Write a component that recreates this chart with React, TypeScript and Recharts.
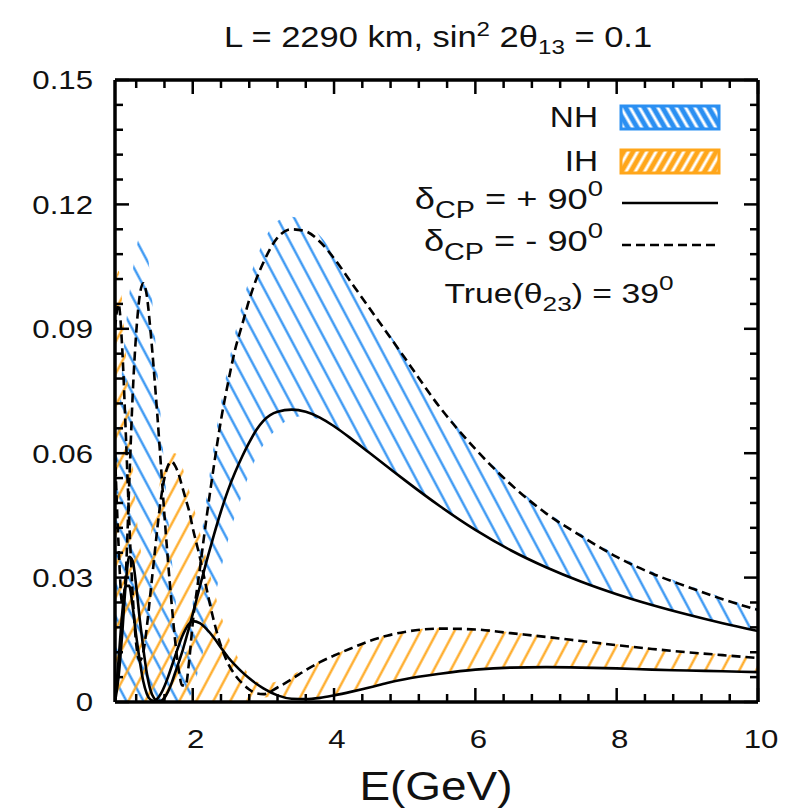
import React from 'react';
import { ComposedChart, Area, Line, XAxis, YAxis } from 'recharts';

// energy grid (GeV)
const energy = [
  0.9, 0.95, 1.0, 1.05, 1.1, 1.15, 1.2, 1.25, 1.3, 1.35, 1.4, 1.45, 1.5, 1.55, 1.6, 1.65, 1.7, 1.75, 1.8, 1.85, 1.9, 1.95,
  2.0, 2.1, 2.2, 2.3, 2.4, 2.5, 2.6, 2.7, 2.8, 2.9, 3.0,
  3.2, 3.4, 3.6, 3.8, 4.0, 4.25, 4.5, 4.75, 5.0,
  5.5, 6.0, 6.5, 7.0, 7.5, 8.0, 8.5, 9.0, 9.5, 10.0,
];

// NH, deltaCP = +90
const nhPlus = [
  0.0, 0.006, 0.016, 0.028, 0.035, 0.034, 0.028, 0.02, 0.013, 0.007, 0.003, 0.001, 0.0003, 0.0003, 0.001, 0.0025, 0.0045, 0.007, 0.0095, 0.012, 0.015, 0.018,
  0.0212, 0.0278, 0.0342, 0.0403, 0.046, 0.0511, 0.0554, 0.0592, 0.0626, 0.0656, 0.0678,
  0.07, 0.0705, 0.07, 0.0686, 0.0665, 0.0634, 0.0601, 0.0568, 0.0535,
  0.0472, 0.0415, 0.0366, 0.0325, 0.029, 0.026, 0.0234, 0.0211, 0.019, 0.0171,
];

// NH, deltaCP = -90
const nhMinus = [
  0.06, 0.038, 0.024, 0.03, 0.052, 0.074, 0.089, 0.098, 0.101, 0.098, 0.09, 0.08, 0.069, 0.057, 0.045, 0.034, 0.024, 0.015, 0.008, 0.004, 0.004, 0.01,
  0.019, 0.032, 0.045, 0.057, 0.068, 0.077, 0.085, 0.091, 0.097, 0.102, 0.106,
  0.112, 0.114, 0.1135, 0.111, 0.107, 0.101, 0.095, 0.089, 0.083,
  0.071, 0.061, 0.0525, 0.0455, 0.04, 0.035, 0.031, 0.0278, 0.0248, 0.0222,
];

// IH, deltaCP = +90
const ihPlus = [
  0.0, 0.01, 0.021, 0.028, 0.028, 0.023, 0.016, 0.01, 0.005, 0.002, 0.0006, 0.0003, 0.0008, 0.002, 0.0038, 0.006, 0.0085, 0.011, 0.0135, 0.0158, 0.0176, 0.0189,
  0.0195, 0.019, 0.0175, 0.0155, 0.0131, 0.0108, 0.0089, 0.0072, 0.0057, 0.0044, 0.0033,
  0.0016, 0.0008, 0.0007, 0.001, 0.0016, 0.0025, 0.0035, 0.0046, 0.0055,
  0.0068, 0.0078, 0.0083, 0.0084, 0.0083, 0.0081, 0.0078, 0.0076, 0.0074, 0.0072,
];

// IH, deltaCP = -90
const ihMinus = [
  0.09, 0.096, 0.086, 0.066, 0.044, 0.026, 0.014, 0.01, 0.012, 0.018, 0.026, 0.034, 0.042, 0.049, 0.054, 0.057, 0.058, 0.057, 0.055, 0.052, 0.049, 0.046,
  0.042, 0.035, 0.027, 0.0195, 0.0135, 0.0093, 0.0065, 0.0045, 0.003, 0.0021, 0.0019,
  0.0035, 0.0055, 0.0077, 0.0096, 0.0112, 0.013, 0.0147, 0.016, 0.0169,
  0.0177, 0.0175, 0.0166, 0.0157, 0.0147, 0.0137, 0.0128, 0.012, 0.0113, 0.0106,
];

// NH band over deltaCP
const nhLow = [
  0, 0, 0, 0, 0, 0, 0, 0, 0, 0, 0, 0, 0, 0, 0, 0, 0, 0, 0, 0, 0, 0.001,
  0.003, 0.009, 0.016, 0.024, 0.032, 0.039, 0.045, 0.05, 0.055, 0.059, 0.062,
  0.066, 0.0685, 0.069, 0.068, 0.0662, 0.0634, 0.0601, 0.0568, 0.0535,
  0.0472, 0.0415, 0.0366, 0.0325, 0.029, 0.026, 0.0234, 0.0211, 0.019, 0.0171,
];
const nhHigh = [
  0.055, 0.068, 0.08, 0.09, 0.098, 0.104, 0.109, 0.113, 0.114, 0.11, 0.102, 0.092, 0.08, 0.068, 0.056, 0.045, 0.035, 0.026, 0.018, 0.013, 0.012, 0.016,
  0.024, 0.037, 0.05, 0.062, 0.072, 0.081, 0.089, 0.096, 0.102, 0.107, 0.111,
  0.116, 0.117, 0.1155, 0.1125, 0.108, 0.102, 0.0955, 0.0895, 0.0835,
  0.0715, 0.0615, 0.053, 0.046, 0.0405, 0.0355, 0.0315, 0.0282, 0.0252, 0.0225,
];

// IH band over deltaCP
const ihLow = [
  0, 0, 0, 0, 0, 0, 0, 0, 0, 0, 0, 0, 0, 0, 0, 0, 0, 0, 0, 0, 0, 0,
  0, 0, 0, 0, 0, 0, 0, 0, 0, 0, 0.001,
  0.0014, 0.0008, 0.0007, 0.001, 0.0016, 0.0025, 0.0035, 0.0046, 0.0055,
  0.0068, 0.0078, 0.0083, 0.0084, 0.0083, 0.0081, 0.0078, 0.0076, 0.0074, 0.0072,
];
const ihHigh = [
  0.1, 0.104, 0.097, 0.085, 0.072, 0.058, 0.046, 0.038, 0.035, 0.036, 0.04, 0.045, 0.05, 0.054, 0.057, 0.059, 0.06, 0.06, 0.059, 0.057, 0.054, 0.051,
  0.048, 0.041, 0.034, 0.027, 0.021, 0.016, 0.012, 0.009, 0.0065, 0.005, 0.0045,
  0.005, 0.0065, 0.0082, 0.0098, 0.0114, 0.0132, 0.0149, 0.0162, 0.0171,
  0.0179, 0.0177, 0.0168, 0.0159, 0.0149, 0.0139, 0.013, 0.0122, 0.0115, 0.0108,
];

const xTicks = [1.2, 1.6, 2, 2.4, 2.8, 3.2, 3.6, 4, 4.4, 4.8, 5.2, 5.6, 6, 6.4, 6.8, 7.2, 7.6, 8, 8.4, 8.8, 9.2, 9.6, 10];
const xMajor = [2, 4, 6, 8, 10];
const yTicks = [
  0, 0.006, 0.012, 0.018, 0.024, 0.03, 0.036, 0.042, 0.048, 0.054, 0.06, 0.066, 0.072, 0.078, 0.084, 0.09,
  0.096, 0.102, 0.108, 0.114, 0.12, 0.126, 0.132, 0.138, 0.144, 0.15,
];
const yMajor = [0, 0.03, 0.06, 0.09, 0.12, 0.15];
const yLabels = ['0', '0.03', '0.06', '0.09', '0.12', '0.15'];

const data = energy.map((e, i) => ({
  e,
  nhBand: [nhLow[i], nhHigh[i]],
  ihBand: [ihLow[i], ihHigh[i]],
  nhPlus: nhPlus[i],
  nhMinus: nhMinus[i],
  ihPlus: ihPlus[i],
  ihMinus: ihMinus[i],
}));

const FONT = '"Liberation Sans", Arial, sans-serif';
const BLUE = '#2a8ff2';
const ORANGE = '#ffa61a';
const MAJOR = 14;
const MINOR = 8;
const TICK_W = 2.5;
const STRETCH = 1.2; // the original figure's text is wider than tall

const near = (list: number[], v: number) => list.findIndex((m) => Math.abs(m - v) < 1e-6);

function BottomTick(props: any) {
  const { x, y, payload } = props;
  const major = near(xMajor, payload.value) >= 0;
  return (
    <g>
      <line x1={x} x2={x} y1={y} y2={y - (major ? MAJOR : MINOR)} stroke="#000" strokeWidth={TICK_W} />
      {major && (
        <text
          transform={`translate(${x + 3},${y + 46}) scale(${STRETCH},1)`}
          textAnchor="middle"
          fontSize={26}
          fontFamily={FONT}
          fill="#111"
        >
          {payload.value}
        </text>
      )}
    </g>
  );
}

function TopTick(props: any) {
  const { x, y, payload } = props;
  const major = near(xMajor, payload.value) >= 0;
  return <line x1={x} x2={x} y1={y} y2={y + (major ? MAJOR : MINOR)} stroke="#000" strokeWidth={TICK_W} />;
}

function LeftTick(props: any) {
  const { x, y, payload } = props;
  const idx = near(yMajor, payload.value);
  return (
    <g>
      <line x1={x} x2={x + (idx >= 0 ? MAJOR : MINOR)} y1={y} y2={y} stroke="#000" strokeWidth={TICK_W} />
      {idx >= 0 && (
        <text
          transform={`translate(${x - 22},${y}) scale(${STRETCH},1)`}
          dy="0.36em"
          textAnchor="end"
          fontSize={26}
          fontFamily={FONT}
          fill="#111"
        >
          {yLabels[idx]}
        </text>
      )}
    </g>
  );
}

function RightTick(props: any) {
  const { x, y, payload } = props;
  const major = near(yMajor, payload.value) >= 0;
  return <line x1={x} x2={x - (major ? MAJOR : MINOR)} y1={y} y2={y} stroke="#000" strokeWidth={TICK_W} />;
}

const axisLine = { stroke: '#000', strokeWidth: 3.5 };

function Overlay() {
  return (
    <svg
      width={785}
      height={809}
      style={{ position: 'absolute', left: 0, top: 0, pointerEvents: 'none' }}
      fontFamily={FONT}
    >
      <defs>
        <pattern id="boxNH" patternUnits="userSpaceOnUse" width="8" height="8" patternTransform="rotate(-30)">
          <rect width="8" height="8" fill={BLUE} />
          <line x1="4" y1="0" x2="4" y2="8" stroke="#fff" strokeWidth="3" />
        </pattern>
        <pattern id="boxIH" patternUnits="userSpaceOnUse" width="8" height="8" patternTransform="rotate(30)">
          <rect width="8" height="8" fill={ORANGE} />
          <line x1="4" y1="0" x2="4" y2="8" stroke="#fff" strokeWidth="3" />
        </pattern>
      </defs>

      <text transform="translate(438,47) scale(1.15,1)" textAnchor="middle" fontSize={30} fill="#111">
        L = 2290 km, sin
        <tspan dy={-11} fontSize={21}>2</tspan>
        <tspan dy={11}> 2θ</tspan>
        <tspan dy={7} fontSize={21}>13</tspan>
        <tspan dy={-7}> = 0.1</tspan>
      </text>

      <text transform="translate(598,127) scale(1.15,1)" textAnchor="end" fontSize={29} fill="#111">NH</text>
      <rect x={621} y={106} width={98} height={23} fill="url(#boxNH)" stroke={BLUE} strokeWidth={3} />
      <text transform="translate(598,171) scale(1.15,1)" textAnchor="end" fontSize={29} fill="#111">IH</text>
      <rect x={621} y={150} width={98} height={23} fill="url(#boxIH)" stroke={ORANGE} strokeWidth={3} />

      <text transform="translate(603,209) scale(1.25,1)" textAnchor="end" fontSize={29} fill="#111">
        δ<tspan dy={9} fontSize={23}>CP</tspan>
        <tspan dy={-9}> = + 90</tspan>
        <tspan dy={-13} fontSize={22}>0</tspan>
      </text>
      <line x1={622} x2={718} y1={203} y2={203} stroke="#000" strokeWidth={2.6} />

      <text transform="translate(603,251) scale(1.25,1)" textAnchor="end" fontSize={29} fill="#111">
        δ<tspan dy={9} fontSize={23}>CP</tspan>
        <tspan dy={-9}> = - 90</tspan>
        <tspan dy={-13} fontSize={22}>0</tspan>
      </text>
      <line x1={622} x2={718} y1={245} y2={245} stroke="#000" strokeWidth={2.6} strokeDasharray="9 5" />

      <text transform="translate(559,303) scale(1.25,1)" textAnchor="middle" fontSize={27} fill="#111">
        True(θ<tspan dy={8} fontSize={21}>23</tspan>
        <tspan dy={-8}>) = 39</tspan>
        <tspan dy={-13} fontSize={21}>0</tspan>
      </text>

      <text transform="translate(436,800) scale(1.12,1)" textAnchor="middle" fontSize={41} fill="#111">E(GeV)</text>
    </svg>
  );
}

export default function App() {
  return (
    <div style={{ position: 'absolute', left: 0, top: 0, width: 785, height: 809, background: '#fff' }}>
      <ComposedChart width={785} height={809} data={data} margin={{ top: 79, right: 26, bottom: 47, left: 0 }}>
        <defs>
          <pattern id="hatchNH" patternUnits="userSpaceOnUse" width="15" height="15" patternTransform="rotate(-28)">
            <line x1="7.5" y1="0" x2="7.5" y2="15" stroke={BLUE} strokeWidth="2.2" />
          </pattern>
          <pattern id="hatchIH" patternUnits="userSpaceOnUse" width="15" height="15" patternTransform="rotate(28)">
            <line x1="7.5" y1="0" x2="7.5" y2="15" stroke={ORANGE} strokeWidth="2.2" />
          </pattern>
        </defs>
        <XAxis
          xAxisId="b"
          dataKey="e"
          type="number"
          domain={[0.9, 10]}
          allowDataOverflow
          ticks={xTicks}
          interval={0}
          height={60}
          tickSize={0}
          tickMargin={0}
          tickLine={false}
          axisLine={axisLine}
          tick={(p: any) => <BottomTick {...p} />}
        />
        <XAxis
          xAxisId="t"
          dataKey="e"
          type="number"
          orientation="top"
          domain={[0.9, 10]}
          allowDataOverflow
          ticks={xTicks}
          interval={0}
          height={1}
          tickSize={0}
          tickMargin={0}
          tickLine={false}
          axisLine={axisLine}
          tick={(p: any) => <TopTick {...p} />}
        />
        <YAxis
          yAxisId="l"
          type="number"
          domain={[0, 0.15]}
          allowDataOverflow
          ticks={yTicks}
          interval={0}
          width={115}
          tickSize={0}
          tickMargin={0}
          tickLine={false}
          axisLine={axisLine}
          tick={(p: any) => <LeftTick {...p} />}
        />
        <YAxis
          yAxisId="r"
          type="number"
          orientation="right"
          domain={[0, 0.15]}
          allowDataOverflow
          ticks={yTicks}
          interval={0}
          width={1}
          tickSize={0}
          tickMargin={0}
          tickLine={false}
          axisLine={axisLine}
          tick={(p: any) => <RightTick {...p} />}
        />
        <Area
          xAxisId="b"
          yAxisId="l"
          dataKey="nhBand"
          type="monotone"
          stroke="none"
          fill="url(#hatchNH)"
          fillOpacity={1}
          isAnimationActive={false}
          activeDot={false}
        />
        <Area
          xAxisId="b"
          yAxisId="l"
          dataKey="ihBand"
          type="monotone"
          stroke="none"
          fill="url(#hatchIH)"
          fillOpacity={1}
          isAnimationActive={false}
          activeDot={false}
        />
        <Line xAxisId="b" yAxisId="l" dataKey="ihPlus" type="monotone" stroke="#000" strokeWidth={2.6} dot={false} isAnimationActive={false} />
        <Line xAxisId="b" yAxisId="l" dataKey="nhPlus" type="monotone" stroke="#000" strokeWidth={2.6} dot={false} isAnimationActive={false} />
        <Line xAxisId="b" yAxisId="l" dataKey="ihMinus" type="monotone" stroke="#000" strokeWidth={2.6} strokeDasharray="9 5" dot={false} isAnimationActive={false} />
        <Line xAxisId="b" yAxisId="l" dataKey="nhMinus" type="monotone" stroke="#000" strokeWidth={2.6} strokeDasharray="9 5" dot={false} isAnimationActive={false} />
      </ComposedChart>
      <Overlay />
    </div>
  );
}
